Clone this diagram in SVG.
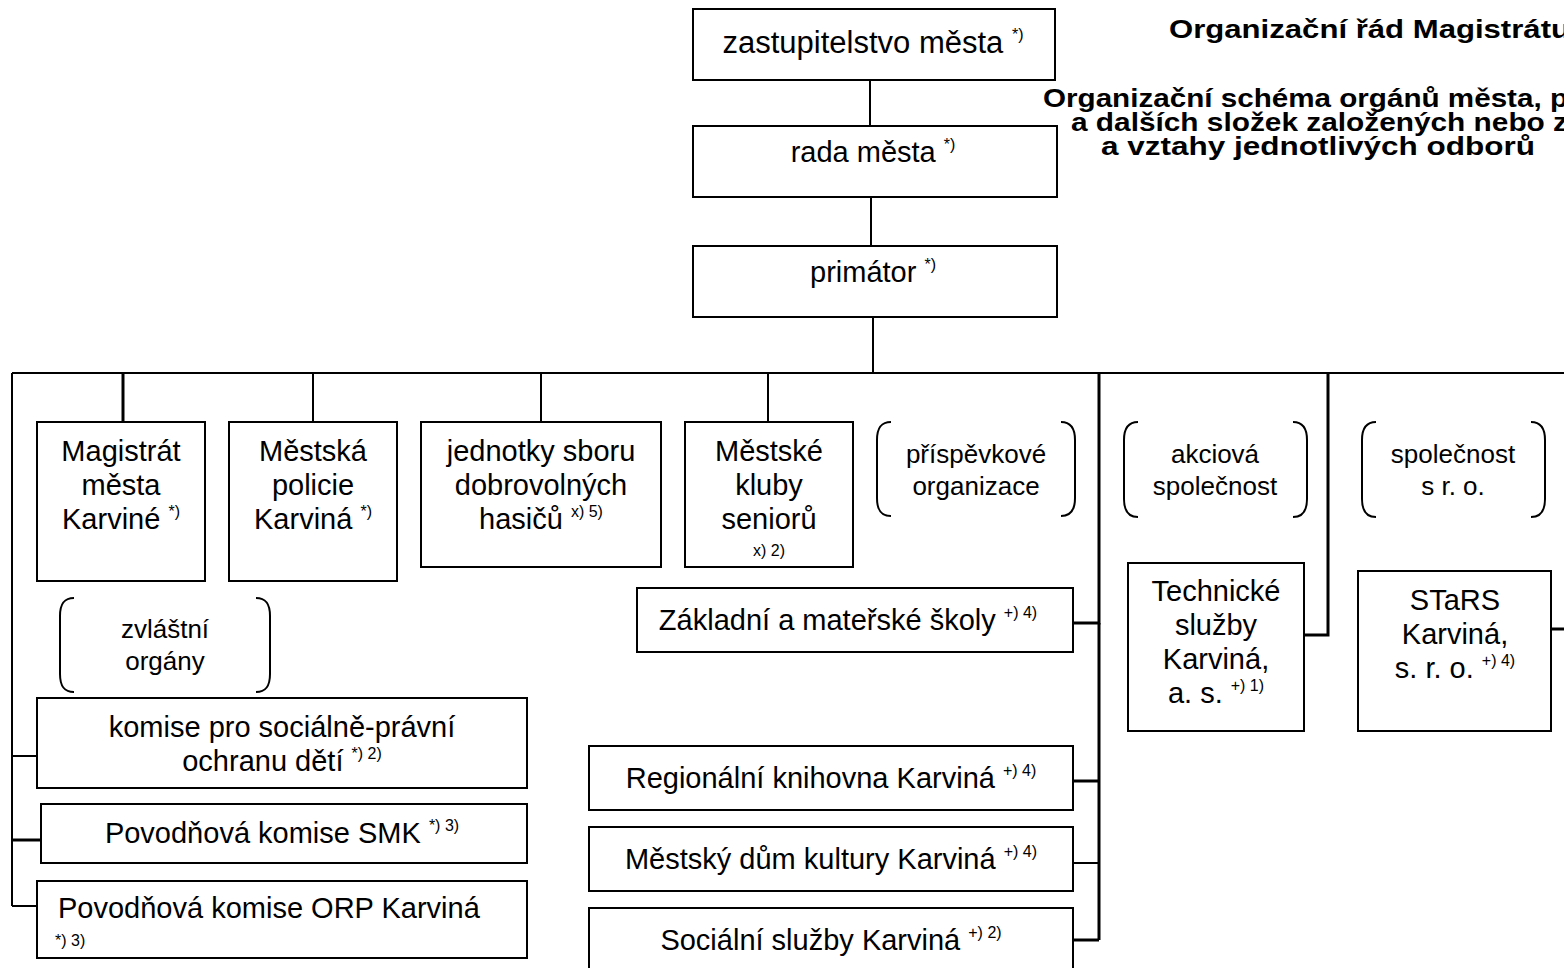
<svg xmlns="http://www.w3.org/2000/svg" width="1564" height="968" viewBox="0 0 1564 968">
<style>
.box{fill:#fff;stroke:#000;stroke-width:2}
.br{fill:none;stroke:#000;stroke-width:2}
.ln{fill:none;stroke:#000;stroke-width:2}
.lt{fill:none;stroke:#000;stroke-width:3}
text{font-family:"Liberation Sans",Arial,sans-serif;fill:#000}
.t{font-size:29px;text-anchor:middle}
.tz{font-size:31px;text-anchor:middle}
.tl{font-size:29px}
.b{font-size:26px;text-anchor:middle}
.h{font-size:25px;font-weight:bold}
.h1{font-size:26px;font-weight:bold}
.s{font-size:16px}
</style>
<rect width="1564" height="968" fill="#fff"/>
<g id="title">
<text class="h1" x="1169" y="38" textLength="401" lengthAdjust="spacingAndGlyphs">Organizační řád Magistrátu</text>
<text class="h" x="1043" y="107" textLength="525" lengthAdjust="spacingAndGlyphs">Organizační schéma orgánů města, p</text>
<text class="h" x="1071" y="131" textLength="497" lengthAdjust="spacingAndGlyphs">a dalších složek založených nebo z</text>
<text class="h" x="1101" y="155" textLength="434" lengthAdjust="spacingAndGlyphs">a vztahy jednotlivých odborů</text>
</g>
<g id="connectors">
<line class="ln" x1="870" y1="80" x2="870" y2="126"/>
<line class="ln" x1="871" y1="197" x2="871" y2="245"/>
<line class="ln" x1="873" y1="317" x2="873" y2="373"/>
<line class="ln" x1="12" y1="373" x2="1564" y2="373"/>
<line class="ln" x1="12" y1="373" x2="12" y2="906"/>
<line class="lt" x1="123" y1="373" x2="123" y2="422"/>
<line class="ln" x1="313" y1="373" x2="313" y2="422"/>
<line class="ln" x1="541" y1="373" x2="541" y2="422"/>
<line class="ln" x1="768" y1="373" x2="768" y2="422"/>
<line class="ln" x1="12" y1="756" x2="37" y2="756"/>
<line class="lt" x1="12" y1="840" x2="41" y2="840"/>
<line class="ln" x1="12" y1="906" x2="37" y2="906"/>
<polyline class="lt" points="1073,623 1099,623 1099,373"/>
<line class="lt" x1="1099" y1="623" x2="1099" y2="940"/>
<line class="lt" x1="1073" y1="781" x2="1099" y2="781"/>
<line class="ln" x1="1073" y1="863" x2="1099" y2="863"/>
<line class="lt" x1="1073" y1="940" x2="1099" y2="940"/>
<polyline class="lt" points="1304,635 1328,635 1328,373"/>
<line class="lt" x1="1551" y1="629" x2="1564" y2="629"/>
</g>
<g id="n-zastupitelstvo">
<rect class="box" x="693" y="9" width="362" height="71"/>
<text class="tz" x="873" y="53">zastupitelstvo města <tspan class="s" dy="-13">*)</tspan></text>
</g>
<g id="n-rada">
<rect class="box" x="693" y="126" width="364" height="71"/>
<text class="t" x="873" y="162">rada města <tspan class="s" dy="-12">*)</tspan></text>
</g>
<g id="n-primator">
<rect class="box" x="693" y="246" width="364" height="71"/>
<text class="t" x="873" y="282">primátor <tspan class="s" dy="-12">*)</tspan></text>
</g>
<g id="n-magistrat">
<rect class="box" x="37" y="422" width="168" height="159"/>
<text class="t" x="121" y="461">Magistrát</text>
<text class="t" x="121" y="495">města</text>
<text class="t" x="121" y="529">Karviné <tspan class="s" dy="-12">*)</tspan></text>
</g>
<g id="n-policie">
<rect class="box" x="229" y="422" width="168" height="159"/>
<text class="t" x="313" y="461">Městská</text>
<text class="t" x="313" y="495">policie</text>
<text class="t" x="313" y="529">Karviná <tspan class="s" dy="-12">*)</tspan></text>
</g>
<g id="n-jednotky">
<rect class="box" x="421" y="422" width="240" height="145"/>
<text class="t" x="541" y="461">jednotky sboru</text>
<text class="t" x="541" y="495">dobrovolných</text>
<text class="t" x="541" y="529">hasičů <tspan class="s" dy="-12">x) 5)</tspan></text>
</g>
<g id="n-kluby">
<rect class="box" x="685" y="422" width="168" height="145"/>
<text class="t" x="769" y="461">Městské</text>
<text class="t" x="769" y="495">kluby</text>
<text class="t" x="769" y="529">seniorů</text>
<text class="s" x="769" y="556" text-anchor="middle">x) 2)</text>
</g>
<g id="n-prispevkove">
<path class="br" d="M891,422 C881,422 877,428 877,440 L877,498 C877,510 881,516 891,516 M1061,422 C1071,422 1075,428 1075,440 L1075,498 C1075,510 1071,516 1061,516"/>
<text class="b" x="976" y="463">příspěvkové</text>
<text class="b" x="976" y="495">organizace</text>
</g>
<g id="n-akciova">
<path class="br" d="M1138,422 C1128,422 1124,428 1124,440 L1124,499 C1124,511 1128,517 1138,517 M1293,422 C1303,422 1307,428 1307,440 L1307,499 C1307,511 1303,517 1293,517"/>
<text class="b" x="1215" y="463">akciová</text>
<text class="b" x="1215" y="495">společnost</text>
</g>
<g id="n-sro">
<path class="br" d="M1376,422 C1366,422 1362,428 1362,440 L1362,499 C1362,511 1366,517 1376,517 M1531,422 C1541,422 1545,428 1545,440 L1545,499 C1545,511 1541,517 1531,517"/>
<text class="b" x="1453" y="463">společnost</text>
<text class="b" x="1453" y="495">s r. o.</text>
</g>
<g id="n-zvlastni">
<path class="br" d="M74,598 C64,598 60,604 60,616 L60,674 C60,686 64,692 74,692 M256,598 C266,598 270,604 270,616 L270,674 C270,686 266,692 256,692"/>
<text class="b" x="165" y="638">zvláštní</text>
<text class="b" x="165" y="670">orgány</text>
</g>
<g id="n-komise">
<rect class="box" x="37" y="698" width="490" height="90"/>
<text class="t" x="282" y="737">komise pro sociálně-právní</text>
<text class="t" x="282" y="771">ochranu dětí <tspan class="s" dy="-12">*) 2)</tspan></text>
</g>
<g id="n-smk">
<rect class="box" x="41" y="804" width="486" height="59"/>
<text class="t" x="282" y="843">Povodňová komise SMK <tspan class="s" dy="-12">*) 3)</tspan></text>
</g>
<g id="n-orp">
<rect class="box" x="37" y="881" width="490" height="77"/>
<text class="tl" x="58" y="918">Povodňová komise ORP Karviná</text>
<text class="s" x="55" y="946">*) 3)</text>
</g>
<g id="n-zakladni">
<rect class="box" x="637" y="588" width="436" height="64"/>
<text class="t" x="848" y="630">Základní a mateřské školy <tspan class="s" dy="-12">+) 4)</tspan></text>
</g>
<g id="n-knihovna">
<rect class="box" x="589" y="746" width="484" height="64"/>
<text class="t" x="831" y="788">Regionální knihovna Karviná <tspan class="s" dy="-12">+) 4)</tspan></text>
</g>
<g id="n-mdk">
<rect class="box" x="589" y="827" width="484" height="64"/>
<text class="t" x="831" y="869">Městský dům kultury Karviná <tspan class="s" dy="-12">+) 4)</tspan></text>
</g>
<g id="n-ssk">
<rect class="box" x="589" y="908" width="484" height="70"/>
<text class="t" x="831" y="950">Sociální služby Karviná <tspan class="s" dy="-12">+) 2)</tspan></text>
</g>
<g id="n-ts">
<rect class="box" x="1128" y="563" width="176" height="168"/>
<text class="t" x="1216" y="601">Technické</text>
<text class="t" x="1216" y="635">služby</text>
<text class="t" x="1216" y="669">Karviná,</text>
<text class="t" x="1216" y="703">a. s. <tspan class="s" dy="-12">+) 1)</tspan></text>
</g>
<g id="n-stars">
<rect class="box" x="1358" y="571" width="193" height="160"/>
<text class="t" x="1455" y="610">STaRS</text>
<text class="t" x="1455" y="644">Karviná,</text>
<text class="t" x="1455" y="678">s. r. o. <tspan class="s" dy="-12">+) 4)</tspan></text>
</g>
</svg>
